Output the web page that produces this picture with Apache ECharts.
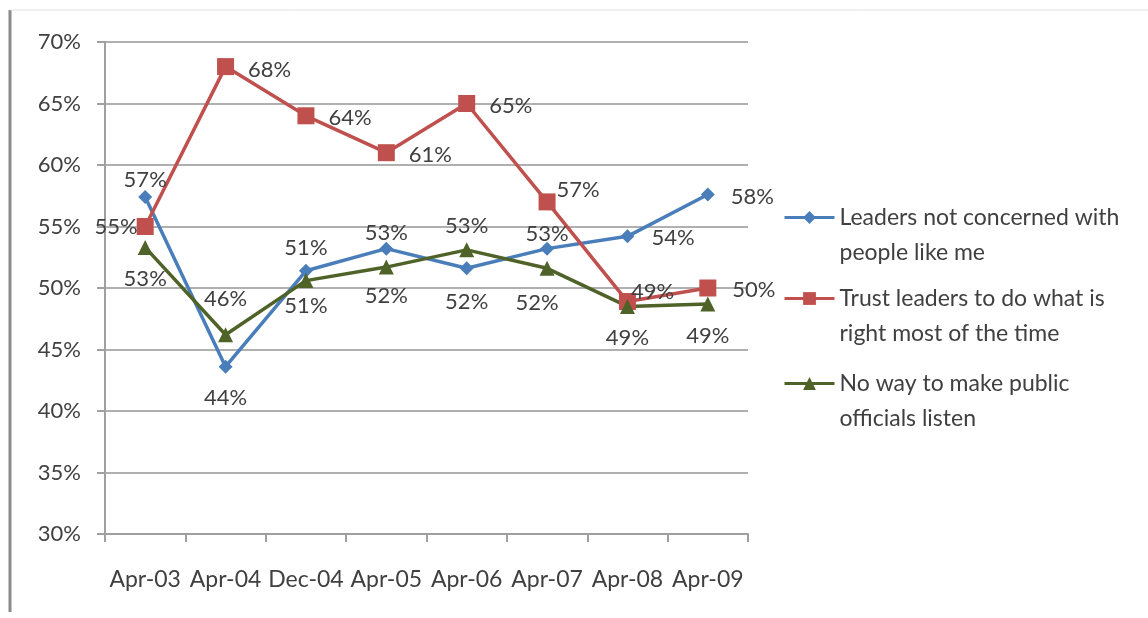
<!DOCTYPE html>
<html><head><meta charset="utf-8">
<script src="https://cdn.jsdelivr.net/npm/echarts@6/dist/echarts.min.js"></script>
<style>html,body{margin:0;padding:0;background:#fff}#c{width:1148px;height:618px}</style>
</head><body><div id="c"></div>
<script>
const categories = ['Apr-03','Apr-04','Dec-04','Apr-05','Apr-06','Apr-07','Apr-08','Apr-09'];
const leadersNotConcerned = [57.4, 43.6, 51.4, 53.2, 51.6, 53.2, 54.2, 57.6];
const trustLeaders = [55.0, 68.0, 64.0, 61.0, 65.0, 57.0, 48.9, 50.0];
const noWayListen = [53.3, 46.2, 50.6, 51.7, 53.1, 51.6, 48.5, 48.7];
const seriesNames = ['Leaders not concerned with people like me','Trust leaders to do what is right most of the time','No way to make public officials listen'];
const legendLines = [['Leaders not concerned with','people like me'],['Trust leaders to do what is','right most of the time'],['No way to make public','officials listen']];

const blueLbl = [['top',[0,7]],['bottom',[0,7]],['top',[0,1]],['top',[0,8]],['bottom',[0,10]],['top',[0,9]],['right',[11,2]],['right',[10,2]]];
const redLbl = [['left',[7,0]],['right',[8,3]],['right',[8,2]],['right',[8,2]],['right',[8,2]],['right',[-5,-12]],['right',[-11,-10]],['right',[10,2]]];
const greenLbl = [['bottom',[0,7]],['top',[0,-11]],['bottom',[0,1]],['bottom',[0,4]],['top',[0,1]],['bottom',[-10,10]],['bottom',[0,7]],['bottom',[0,7]]];

const FONT = 'Lato';
const TXT = '#404040';
const fs = 22;
function mk(vals, pos){
  return vals.map((v,i)=>({value:v,label:{position:pos[i][0],offset:pos[i][1]}}));
}
const colors = ['#4a7ebb','#c0504d','#4f6228'];
const symbols = ['diamond','rect','triangle'];
const sizes = [14,17,15];
const datas = [mk(leadersNotConcerned,blueLbl), mk(trustLeaders,redLbl), mk(noWayListen,greenLbl)];

const chart = echarts.init(document.getElementById('c'));
const legendTops = [217, 298, 383];
chart.setOption({
  animation:false,
  backgroundColor:'#fff',
  grid:{left:105,right:400,top:42,bottom:84,containLabel:false},
  xAxis:{type:'category',data:categories,boundaryGap:true,
    axisLine:{lineStyle:{color:'#a0a0a0',width:2}},
    axisTick:{show:true,length:8,lineStyle:{color:'#a0a0a0',width:2}},
    axisLabel:{color:TXT,fontFamily:FONT,fontSize:23,margin:34,interval:0}},
  yAxis:{type:'value',min:30,max:70,interval:5,
    axisLine:{show:true,lineStyle:{color:'#a0a0a0',width:2}},
    axisTick:{show:true,length:8,lineStyle:{color:'#a0a0a0',width:2}},
    splitLine:{lineStyle:{color:'#b0b0b0',width:2}},
    axisLabel:{color:TXT,fontFamily:FONT,fontSize:fs,margin:24,formatter:v=>v+'%'}},
  legend: seriesNames.map((n,i)=>({
    data:[n],orient:'vertical',left:783,top:legendTops[i]-52,padding:0,
    itemWidth:50,itemHeight:16,
    lineStyle:{width:3},
    formatter:()=>' \n'+legendLines[i].join('\n'),
    textStyle:{color:TXT,fontFamily:FONT,fontSize:23,lineHeight:35}
  })),
  graphic:[
    {type:'line',shape:{x1:10,y1:10,x2:10,y2:612},style:{stroke:'#8a8a8a',lineWidth:3}},
    {type:'line',shape:{x1:10,y1:10,x2:1148,y2:10},style:{stroke:'#e0e0e0',lineWidth:1}}
  ],
  series: seriesNames.map((n,i)=>({
    name:n,type:'line',data:datas[i],
    symbol:symbols[i],symbolSize:sizes[i],
    lineStyle:{color:colors[i],width:3.5},
    itemStyle:{color:colors[i]},
    label:{show:true,color:TXT,fontFamily:FONT,fontSize:fs,distance:6,formatter:p=>Math.round(p.value)+'%'}
  }))
});
</script></body></html>
